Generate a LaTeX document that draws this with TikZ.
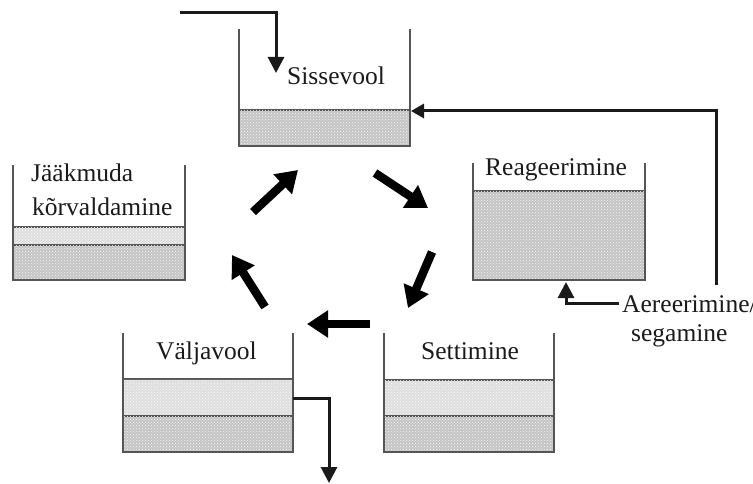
\documentclass[tikz,border=0pt]{standalone}
\usepackage{fontspec}
\setmainfont{Liberation Serif}
\usetikzlibrary{arrows.meta,patterns}
\definecolor{wallc}{HTML}{555555}
\definecolor{darkfill}{HTML}{C4C4C4}
\definecolor{lightfill}{HTML}{DEDEDE}
\definecolor{inkc}{HTML}{1A1A1A}
\tikzset{
  wall/.style={draw=wallc, line width=1.8pt, line join=miter},
  layer/.style={draw=wallc, line width=1.2pt},
  darklayer/.style={layer, fill=darkfill, postaction={pattern=crosshatch dots, pattern color=white!85!darkfill}},
  lightlayer/.style={layer, fill=lightfill, postaction={pattern=crosshatch dots, pattern color=white!85!lightfill}},
  lbl/.style={inner sep=0pt, anchor=base west, font=\fontsize{25.5}{30}\selectfont, text=inkc},
  pipe/.style={draw=inkc, line width=3pt, -{Triangle[length=16pt,width=16pt]}},
  bigarrow/.style={draw=black, line width=8.5pt, -{Triangle[length=21pt,width=26pt]}},
}
\begin{document}
\begin{tikzpicture}[x=1pt,y=-1pt]
\useasboundingbox (0,0) rectangle (753,484);

% ---- Sissevool tank
\path[darklayer] (239,110) rectangle (410,146);
\draw[wall] (239,29) -- (239,146) -- (410,146) -- (410,29);
\node[lbl] (sisse) at (287,85) {Sissevool};

% ---- Reageerimine tank
\path[darklayer] (473,191) rectangle (645,280);
\draw[wall] (473,163) -- (473,280) -- (645,280) -- (645,163);
\node[lbl] (reag) at (485,176) {Reageerimine};

% ---- Jaakmuda tank
\path[lightlayer] (13,227) rectangle (185,245);
\path[darklayer] (13,245) rectangle (185,280);
\draw[wall] (13,165) -- (13,280) -- (185,280) -- (185,165);
\node[lbl] (jaak1) at (31,182) {Jääkmuda};
\node[lbl] (jaak2) at (32,215) {kõrvaldamine};

% ---- Valjavool tank
\path[lightlayer] (123,379) rectangle (293,416);
\path[darklayer] (123,416) rectangle (293,452);
\draw[wall] (123,333) -- (123,452) -- (293,452) -- (293,333);
\node[lbl] (valja) at (156,359) {Väljavool};

% ---- Settimine tank
\path[lightlayer] (384,380) rectangle (554,416);
\path[darklayer] (384,416) rectangle (554,452);
\draw[wall] (384,333) -- (384,452) -- (554,452) -- (554,333);
\node[lbl] (sett) at (421,359) {Settimine};

% ---- Aeration label
\node[lbl] (aer1) at (622,312) {Aereerimine/};
\node[lbl] (aer2) at (631,341) {segamine};

% ---- pipes
\coordinate (inStart) at (180,13);
\coordinate (inCorner) at (276,13);
\coordinate (inTip) at (276,73);
\draw[pipe] (inStart) -- (inCorner) -- (inTip);

\coordinate (retStart) at (716,285);
\coordinate (retCorner) at (716,111);
\coordinate (retTip) at (411,111);
\draw[pipe, -{Triangle[length=13pt,width=14pt]}] (retStart) -- (retCorner) -- (retTip);

\coordinate (aerStart) at (619,303);
\coordinate (aerCorner) at (566,303);
\coordinate (aerTip) at (566,282);
\draw[pipe] (aerStart) -- (aerCorner) -- (aerTip);

\coordinate (outStart) at (293,398);
\coordinate (outCorner) at (329,398);
\coordinate (outTip) at (329,483);
\draw[pipe] (outStart) -- (outCorner) -- (outTip);

% ---- cycle arrows
\coordinate (a1s) at (253,212); \coordinate (a1e) at (298,170);
\coordinate (a2s) at (375,173); \coordinate (a2e) at (428,208);
\coordinate (a3s) at (432,252); \coordinate (a3e) at (408,308);
\coordinate (a4s) at (370,324); \coordinate (a4e) at (307,324);
\coordinate (a5s) at (265,307); \coordinate (a5e) at (232,255);
\draw[bigarrow] (a1s) -- (a1e);
\draw[bigarrow] (a2s) -- (a2e);
\draw[bigarrow] (a3s) -- (a3e);
\draw[bigarrow] (a4s) -- (a4e);
\draw[bigarrow] (a5s) -- (a5e);
\end{tikzpicture}
\end{document}
